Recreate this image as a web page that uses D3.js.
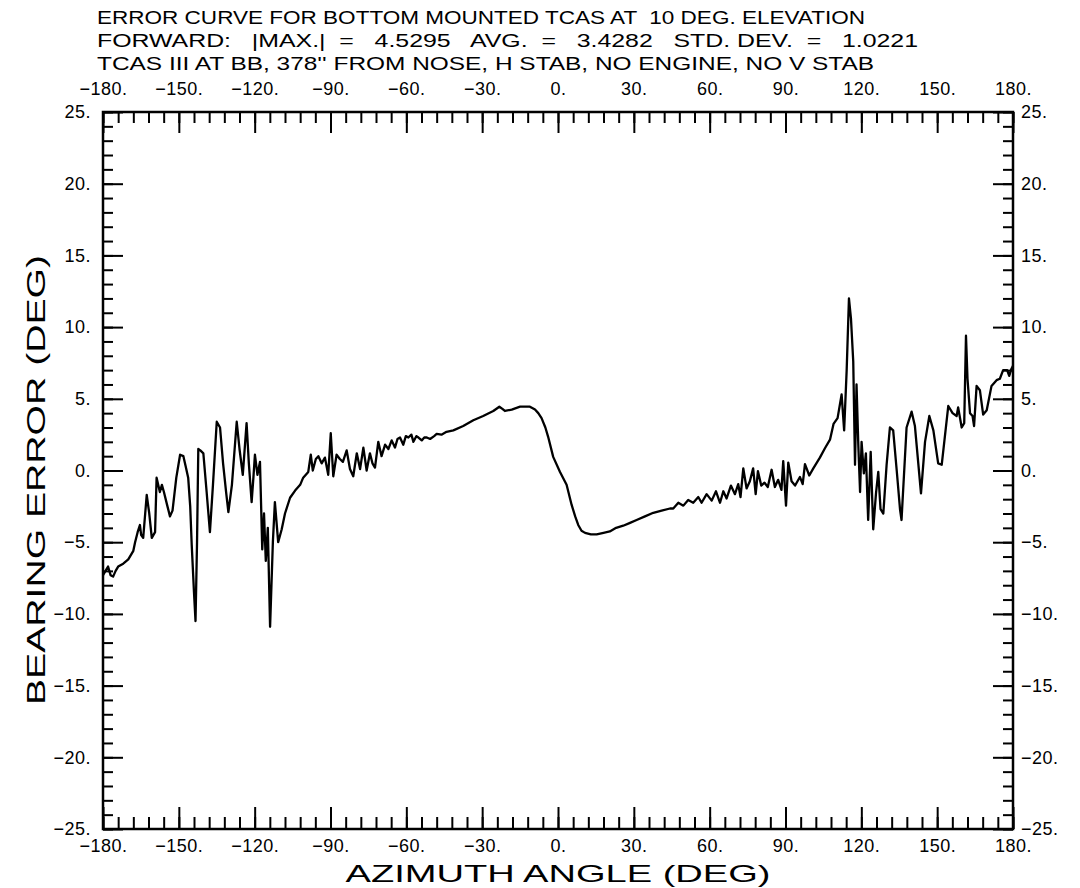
<!DOCTYPE html>
<html>
<head>
<meta charset="utf-8">
<script src="https://cdn.jsdelivr.net/npm/d3@7"></script>
<style>
body { margin: 0; background: #fff; }
text { font-family: "Liberation Sans", Arial, sans-serif; fill: #000; }
</style>
</head>
<body>
<div id="errorChart"></div>
<script>
// title block, as printed on the plot
const titleLines = [
    "ERROR CURVE FOR BOTTOM MOUNTED TCAS AT  10 DEG. ELEVATION",
    "FORWARD:   |MAX.|  =   4.5295   AVG.  =   3.4282   STD. DEV.  =   1.0221",
    "TCAS III AT BB, 378'' FROM NOSE, H STAB, NO ENGINE, NO V STAB"
]

// tick values
const xMajor = [-180, -150, -120, -90, -60, -30, 0, 30, 60, 90, 120, 150, 180]
const yMajor = [-25, -20, -15, -10, -5, 0, 5, 10, 15, 20, 25]

// azimuth (deg) and bearing error (deg)
const azimuth = [
    -180, -179, -178, -177, -176, -175, -174, -172, -170, -168, -167.3, -166.3, -165.4, -164.9, -164.1,
    -162.7, -161.7, -160.7, -159.4, -158.8, -157.5, -156.7, -155.9, -154.5, -153.5, -152.5, -151, -149.5,
    -148.2, -147.3, -146.3, -145.5, -144.9, -144, -143.4, -142.8, -142.3, -141.5, -140.3, -139, -137.7,
    -136.5, -135, -133.7, -132.5, -131.3, -130.4, -129, -127.1, -126, -124.7, -123.2, -122.3, -121.2,
    -120.5, -119.9, -118.9, -117.9, -117, -116.3, -115.6, -114.8, -113.9, -112.8, -112, -110.7, -109.3,
    -108, -106, -104, -102, -100.8, -98.8, -97.8, -97, -95.8, -94.8, -93.5, -92.2, -90.9, -89.9, -88.9,
    -87.6, -86.3, -85.1, -83.6, -82.3, -81, -79.6, -78.3, -77, -75.7, -74.4, -73.4, -72.4, -71.1, -69.8,
    -68.4, -67.1, -65.8, -64.5, -63.5, -62.5, -61.2, -60.2, -59.2, -58, -57.2, -56, -55.2, -53.9, -52.9,
    -51.9, -50.6, -49, -48, -46.1, -44.1, -41.4, -37.5, -33.5, -29.6, -25.6, -23.2, -22, -21, -18.3, -15,
    -11.1, -9.1, -7.8, -6.5, -5, -3.9, -1.9,
    0.8, 3.4, 5.4, 6.8, 8, 9.3, 10.7, 13, 15.3, 18, 20.5, 23, 25.8, 28.5, 31.1, 34.4, 37.7, 41, 44.3, 45.6,
    47.6, 49.6, 51.5, 53.5, 55.5, 56.8, 58.8, 60.8, 62.5, 64.1, 65.4, 66.7, 68.4, 70, 71.3, 72.2, 73.3,
    74.6, 75.9, 77.2, 78.2, 79.1, 80.4, 81.7, 83, 84.5, 85.8, 87.1, 88.4, 89.1, 90.2, 91.1, 92.4, 93.8,
    95.7, 96.8, 97.7, 99.4, 101, 103.6, 105.6, 107.6, 109, 110.6, 112.2, 113.2, 114.2, 115.1, 115.9, 116.8,
    117.5, 118.1, 118.8, 119.5, 120.1, 121, 121.8, 122.7, 123.7, 124.7, 125.8, 126.7, 127.6, 128.7, 130,
    131.3, 132.6, 134, 135.3, 135.9, 137.9, 139.9, 141.2, 143.6, 145.2, 146.9, 148.5, 150.4, 151.8, 154.4,
    156.1, 157.7, 158.3, 159.7, 160.7, 161.4, 162, 163, 164, 164.6, 165.6, 166.9, 168.2, 169.6, 171.5,
    173.5, 174.8, 176.1, 177.7, 178.5, 179.4, 180
]
const bearingError = [
    -7.3, -7.0, -6.7, -7.3, -7.4, -7.0, -6.7, -6.5, -6.2, -5.6, -5.0, -4.3, -3.8, -4.5, -4.7,
    -1.7, -3.0, -4.7, -4.3, -0.5, -1.5, -1.0, -1.5, -2.5, -3.2, -2.8, -0.5, 1.1,
    1.0, 0.3, -0.5, -2.5, -5.2, -8.5, -10.5, -5.0, 1.5, 1.4, 1.2, -1.5, -4.3,
    -1.0, 3.4, 3.0, 0.5, -1.5, -2.9, -1.0, 3.4, 1.5, -0.3, 3.3, 0.5, -2.2,
    -0.5, 1.1, -0.3, 0.6, -5.5, -3.0, -6.3, -4.0, -10.9, -5.0, -2.2, -5.0, -4.1,
    -3.0, -1.9, -1.4, -1.0, -0.5, -0.1, 1.1, 0.0, 0.8, 1.0, 0.5, 0.9, -0.3, 2.6, -0.4,
    1.1, 0.8, 0.6, 1.4, 0.1, -0.4, 1.2, 0.1, 1.6, 0.0, 1.2, 0.5, 0.2, 2.0, 1.0,
    1.8, 1.5, 2.1, 1.6, 2.2, 2.3, 1.8, 2.4, 2.3, 2.5, 2.0, 2.4, 2.3, 2.1, 2.3,
    2.3, 2.2, 2.4, 2.55, 2.5, 2.7, 2.8, 3.1, 3.5, 3.8, 4.15, 4.45, 4.3, 4.15, 4.25, 4.45,
    4.45, 4.25, 4.0, 3.65, 3.0, 2.35, 0.95,
    -0.1, -1.0, -2.4, -3.2, -3.8, -4.2, -4.35, -4.45, -4.45, -4.35, -4.25, -4.0, -3.85, -3.65, -3.45, -3.2, -2.95, -2.8, -2.65, -2.65,
    -2.25, -2.45, -2.05, -2.25, -1.85, -2.25, -1.65, -2.1, -1.45, -2.25, -1.45, -1.95, -1.05, -1.65, -0.95, -1.85, 0.15,
    -1.25, -0.75, 0.15, -1.65, -0.05, -1.05, -0.85, -1.15, 0.05, -1.15, -0.65, -1.35, 0.65, -2.45, 0.55, -0.75, -1.05,
    -0.45, -0.95, 0.45, -0.35, 0.15, 0.9, 1.55, 2.15, 3.25, 3.65, 5.3, 2.8, 7.0, 12.0, 10.6, 7.6,
    0.4, 6.0, 1.8, -1.5, 2.0, -0.2, 1.2, -3.45, 1.3, -4.1, -1.6, -0.1, -2.7, -3.0, 0.4,
    3.0, 2.8, 0.0, -2.7, -3.45, 3.0, 4.1, 3.1, -1.6, 2.0, 3.8, 2.8, 0.5, 0.4, 4.5,
    4.0, 3.8, 4.4, 3.0, 3.3, 9.4, 6.4, 4.0, 3.8, 3.1, 5.9, 5.6, 3.9, 4.2, 5.9,
    6.3, 6.4, 7.0, 7.0, 6.6, 7.1, 7.3
]

const width = 1080
const height = 888
const margin = {'top': 112, 'bottom': 59, 'left': 103, 'right': 67}

const x = d3.scaleLinear().domain([-180, 180]).range([margin.left, width - margin.right])
const y = d3.scaleLinear().domain([-25, 25]).range([height - margin.bottom, margin.top])

// plotter style labels: "-120." , "0."
const fmt = d => (d < 0 ? "\u2212" : "") + Math.abs(d) + "."

// minor ticks every 6 deg on x, every 1 deg on y
const xMinor = d3.range(-180, 181, 6)
const yMinor = d3.range(-25, 26, 1)

var svg = d3.select("#errorChart")
    .append("svg")
    .attr("width", width)
    .attr("height", height)

// title block. the plotter font is wide, so each line is stretched to its printed width
svg.append("g")
    .selectAll("text")
    .data(titleLines)
    .enter()
    .append("text")
    .attr("x", 97)
    .attr("y", (d, i) => 24 + i * 23)
    .attr("textLength", (d, i) => [768, 821, 777][i])
    .attr("lengthAdjust", "spacingAndGlyphs")
    .style("white-space", "pre")
    .style("font-size", "19px")
    .text(d => d)

// tick marks, drawn pointing into the plot
function tickAxis(axisFn, scale, values, size, pos, labels, pad) {
    var g = svg.append("g")
        .attr("transform", pos)
        .call(axisFn(scale)
            .tickValues(values)
            .tickSize(-size)
            .tickPadding(pad || 8)
            .tickFormat(labels ? fmt : ""))
    g.select(".domain").remove()
    g.selectAll("line").attr("stroke", "#000").attr("stroke-width", 2)
    g.selectAll("text")
        .style("font-size", "18px")
        .style("letter-spacing", "0.5px")
        .attr("fill", "#000")
    return g
}

const bottom = height - margin.bottom
const right = width - margin.right

tickAxis(d3.axisBottom, x, xMinor, 12, `translate(0,${bottom})`, false)
tickAxis(d3.axisBottom, x, xMajor, 22, `translate(0,${bottom})`, true, 10)
tickAxis(d3.axisTop, x, xMinor, 11, `translate(0,${margin.top})`, false)
tickAxis(d3.axisTop, x, xMajor, 21, `translate(0,${margin.top})`, true, 17)
tickAxis(d3.axisLeft, y, yMinor, 10, `translate(${margin.left},0)`, false)
tickAxis(d3.axisLeft, y, yMajor, 20, `translate(${margin.left},0)`, true)
    .selectAll("text").attr("dx", "-4")
tickAxis(d3.axisRight, y, yMinor, 10, `translate(${right},0)`, false)
tickAxis(d3.axisRight, y, yMajor, 20, `translate(${right},0)`, true)

// frame
svg.append("rect")
    .attr("x", margin.left)
    .attr("y", margin.top)
    .attr("width", right - margin.left)
    .attr("height", bottom - margin.top)
    .attr("fill", "none")
    .attr("stroke", "#000")
    .attr("stroke-width", 2.5)

// error curve
const points = azimuth.map((a, i) => [a, bearingError[i]])
svg.append("path")
    .datum(points)
    .attr("fill", "none")
    .attr("stroke", "#000")
    .attr("stroke-width", 2.3)
    .attr("stroke-linejoin", "round")
    .attr("d", d3.line().x(d => x(d[0])).y(d => y(d[1])))

// axis titles
svg.append("text")
    .attr("x", x(0))
    .attr("y", 882)
    .attr("text-anchor", "middle")
    .attr("textLength", 425)
    .attr("lengthAdjust", "spacingAndGlyphs")
    .style("font-size", "24px")
    .text("AZIMUTH  ANGLE  (DEG)")

svg.append("text")
    .attr("transform", `translate(45,480) rotate(-90)`)
    .attr("text-anchor", "middle")
    .attr("textLength", 450)
    .attr("lengthAdjust", "spacingAndGlyphs")
    .style("font-size", "25px")
    .text("BEARING  ERROR  (DEG)")
</script>
</body>
</html>
